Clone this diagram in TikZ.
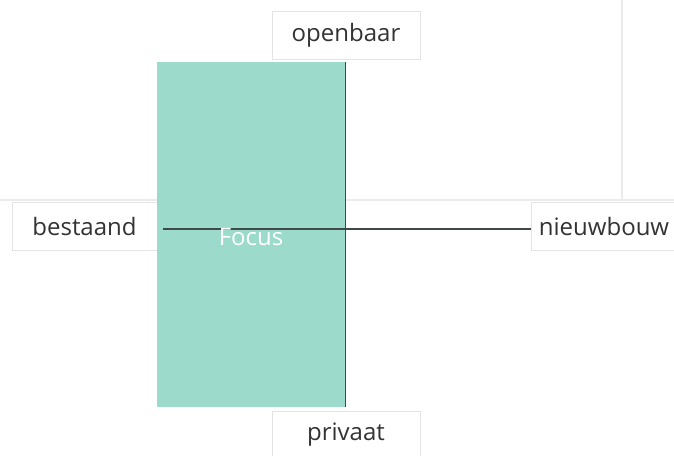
\documentclass[tikz,border=0pt]{standalone}
\usepackage{fontspec}
\setmainfont{Open Sans}
\tikzset{
  label box/.style = {draw = boxgrey, line width = 1pt, fill = white, minimum width = #1, minimum height = 48pt, inner sep = 0pt, text = textgrey, font = \fontsize{24}{28}\selectfont},
  axis/.style = {draw = axisgrey, line width = 1.2pt}
}
\begin{document}
\begin{tikzpicture}[x = 1pt, y = -1pt]
\definecolor{boxgrey}{HTML}{E4E4E4}
\definecolor{gridgrey}{HTML}{EBEBEB}
\definecolor{textgrey}{HTML}{333333}
\definecolor{axisgrey}{HTML}{3F4A48}
\definecolor{focuscol}{HTML}{9CDACC}
\useasboundingbox (0, 0) rectangle (674, 455);
% faint grid lines
\draw[gridgrey, line width = 1.5pt] (0, 200) -- (674, 200) (622, 0) -- (622, 200);
% labels
\node[label box = 148pt] (openbaar) at (346, 35) {openbaar};
\node[label box = 148pt] (privaat) at (346, 435) {privaat};
\node[label box = 145pt] (bestaand) at (84.5, 226.5) {bestaand};
\node[label box = 146pt] (nieuwbouw) at (604, 226.5) {nieuwbouw};
% focus area
\node[fill = focuscol, minimum width = 188pt, minimum height = 345pt, inner sep = 0pt] (focus) at (251, 234.5) {};
\coordinate (hstart) at (163, 229);
\draw[axis] (hstart) -- (hstart -| nieuwbouw.west);
\draw[axis] (focus.north east) -- (focus.south east);
\node[text = white, font = \fontsize{24}{28}\selectfont] (focuslabel) at (251, 237) {Focus};
\end{tikzpicture}
\end{document}
